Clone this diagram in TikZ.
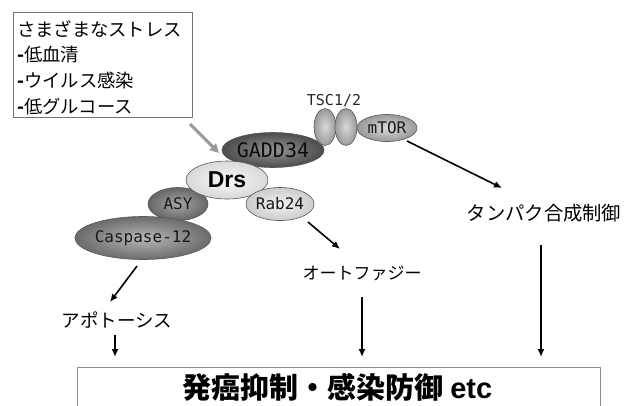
\documentclass[tikz,border=0pt]{standalone}
\usepackage{fontspec}
\newfontfamily\jp{Noto Sans CJK JP}
\newfontfamily\mono{DejaVu Sans Mono}
\newfontfamily\arl{Liberation Sans}
\usetikzlibrary{arrows.meta,calc}
\tikzset{
  prot/.style={ellipse, draw=black!65, line width=0.6pt, inner sep=0pt, text=black!90, font=\mono\fontsize{16}{16}\selectfont},
  arr/.style={draw=black, line width=1.6pt, -{Latex[length=8pt,width=7pt]}},
  lbl/.style={font=\jp\fontsize{18.5}{18.5}\selectfont, inner sep=0pt},
}
\usetikzlibrary{shapes.geometric}
\begin{document}
\begin{tikzpicture}[x=1pt,y=-1pt]
\useasboundingbox (0,0) rectangle (640,405);
\clip (0,0) rectangle (640,405);
% stress box
\node[draw=black!55, line width=0.7pt, minimum width=179pt, minimum height=105pt, anchor=north west, inner sep=0pt] (stress) at (13,12) {};
\node[anchor=west, align=left, inner sep=0pt, font=\jp\fontsize{18.3}{25.7}\selectfont] (stresstext) at (17,67.5)
  {さまざまなストレス\\{\bfseries -}低血清\\{\bfseries -}ウイルス感染\\{\bfseries -}低グルコース};
\coordinate (g1) at (190,124);
\coordinate (g2) at (219,153);
\draw[draw=black!40, line width=3pt, -{Triangle[length=9pt,width=9pt]}] (g1) -- (g2);
% proteins
\node[prot, shade, inner color=black!42, outer color=black!70, minimum width=93pt, minimum height=35pt, font=\mono\fontsize{20}{20}\selectfont, text=black!95] (gadd) at (273,150) {GADD34};
\node[prot, shade, inner color=black!15, outer color=black!40, minimum width=22pt, minimum height=37pt] (tsc1) at (325,127) {};
\node[prot, shade, inner color=black!15, outer color=black!40, minimum width=22pt, minimum height=37pt] (tsc2) at (346,127) {};
\node[prot, shade, inner color=black!15, outer color=black!40, minimum width=60pt, minimum height=27pt] (mtor) at (387,128) {mTOR};
\node[inner sep=0pt, font=\mono\fontsize{15}{15}\selectfont, text=black!85] (tsclbl) at (334,101) {TSC1/2};
\node[prot, shade, inner color=black!35, outer color=black!60, minimum width=60pt, minimum height=33pt] (asy) at (178,204) {ASY};
\node[prot, shade, inner color=black!28, outer color=black!58, minimum width=117pt, minimum height=43pt] (casp) at (143,238) {Caspase-12};
\node[prot, shade, inner color=black!3, outer color=black!15, minimum width=82pt, minimum height=38pt, font=\arl\bfseries\fontsize{23}{23}\selectfont, text=black] (drs) at (227,180) {Drs};
\node[prot, shade, inner color=black!5, outer color=black!20, minimum width=59pt, minimum height=33pt] (rab) at (280,204) {Rab24};
% outcome labels
\node[lbl, font=\jp\fontsize{19.3}{19.3}\selectfont] (tanpaku) at (544,213) {タンパク合成制御};
\node[lbl, font=\jp\fontsize{17}{17}\selectfont] (auto) at (362,273) {オートファジー};
\node[lbl] (apop) at (117,320) {アポトーシス};
% bottom box
\node[draw=black!45, line width=0.8pt, minimum width=523pt, minimum height=50pt, anchor=north west, inner sep=0pt] (bottom) at (77,367) {};
\node[inner sep=0pt, font=\jp\bfseries\fontsize{29}{29}\selectfont] (bottomtext) at (337.5,387.5) {発癌抑制・感染防御 {\arl\bfseries etc}};
% connectors
\coordinate (m1) at (407,141);
\coordinate (m2) at (502,188);
\draw[arr] (m1) -- (m2);
\coordinate (r1) at (308,222);
\coordinate (r2) at (340,249);
\draw[arr] (r1) -- (r2);
\coordinate (c1) at (137,266);
\coordinate (c2) at (110,302);
\draw[arr] (c1) -- (c2);
\coordinate (a1) at (115,335);
\coordinate (a2) at (115,357);
\draw[arr] (a1) -- (a2);
\coordinate (u1) at (362,297);
\coordinate (u2) at (362,357);
\draw[arr] (u1) -- (u2);
\coordinate (t1) at (541,245);
\coordinate (t2) at (541,357);
\draw[arr] (t1) -- (t2);
\end{tikzpicture}
\end{document}
